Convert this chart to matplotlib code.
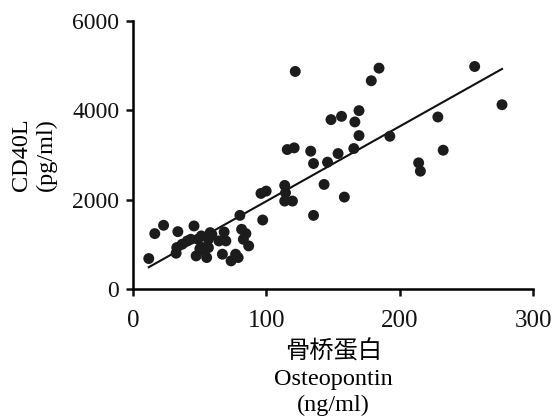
import matplotlib
matplotlib.use("Agg")
import matplotlib.pyplot as plt
import numpy as np

plt.rcParams['font.family'] = ['Liberation Serif', 'Noto Sans CJK SC']

# Osteopontin (ng/ml) vs CD40L (pg/ml)
opn = np.array([11.8, 16.3, 22.9, 33.6, 45.7, 32.8, 32.3, 36.8, 40.7, 43.3,
                47.3, 48.6, 51.2, 52.5, 55.2, 56.5, 57.8, 59.1, 56.5, 64.4,
                68.3, 69.6, 67.0, 73.5, 76.9, 78.8, 80.1, 81.4, 84.6, 86.7,
                82.7, 95.9, 99.8, 97.2, 113.7, 114.3, 113.7, 119.5, 115.6, 120.8,
                121.6, 133.2, 135.3, 135.3, 143.2, 145.8, 148.4, 153.7, 156.3, 158.4,
                165.5, 166.3, 169.4, 169.4, 178.6, 184.4, 192.5, 214.1, 215.4, 228.5,
                232.5, 256.1, 276.6, 50.1, 52.6])
cd40l = np.array([684, 1242, 1428, 1286, 1413, 929, 803, 1004, 1078, 1115,
                  743, 1115, 1190, 929, 706, 1115, 1264, 1227, 929, 1078,
                  1279, 1078, 781, 632, 781, 706, 1650, 1338, 1242, 967,
                  1115, 2141, 2193, 1546, 2320, 2156, 1970, 1970, 3123, 3160,
                  4870, 3086, 2810, 1650, 2342, 2840, 3792, 3033, 3866, 2059,
                  3145, 3740, 3993, 3435, 4662, 4944, 3420, 2825, 2639, 3851,
                  3108, 4981, 4126, 902, 865])

xticks = [0, 100, 200, 300]
yticks = [0, 2000, 4000, 6000]

fig = plt.figure(figsize=(5.52, 4.19), dpi=100)
ax = fig.add_axes([0.241, 0.310, 0.725, 0.640])

ax.scatter(opn, cd40l, s=62, color='#1c1c1c', edgecolors='none', zorder=3)

# linear regression line
slope, intercept = np.polyfit(opn, cd40l, 1)
xs = np.array([opn.min(), opn.max()])
ax.plot(xs, slope * xs + intercept, color='#111111', lw=1.5, zorder=2)

ax.set_xlim(0, 300)
ax.set_ylim(0, 6000)
ax.set_xticks(xticks)
ax.set_yticks(yticks)
for s in ['top', 'right']:
    ax.spines[s].set_visible(False)
for s in ['left', 'bottom']:
    ax.spines[s].set_linewidth(1.8)
ax.tick_params(axis='both', direction='out', length=5, width=1.8, colors='#111111')
ax.tick_params(axis='x', labelsize=18, pad=10)
ax.tick_params(axis='y', labelsize=17, pad=5)

ax.set_xlabel('骨桥蛋白\nOsteopontin\n(ng/ml)', fontsize=17.5, linespacing=1.32, labelpad=6)
ax.set_ylabel('CD40L\n(pg/ml)', fontsize=17.5, linespacing=1.25, labelpad=11)

fig.savefig('out.png', dpi=100)
